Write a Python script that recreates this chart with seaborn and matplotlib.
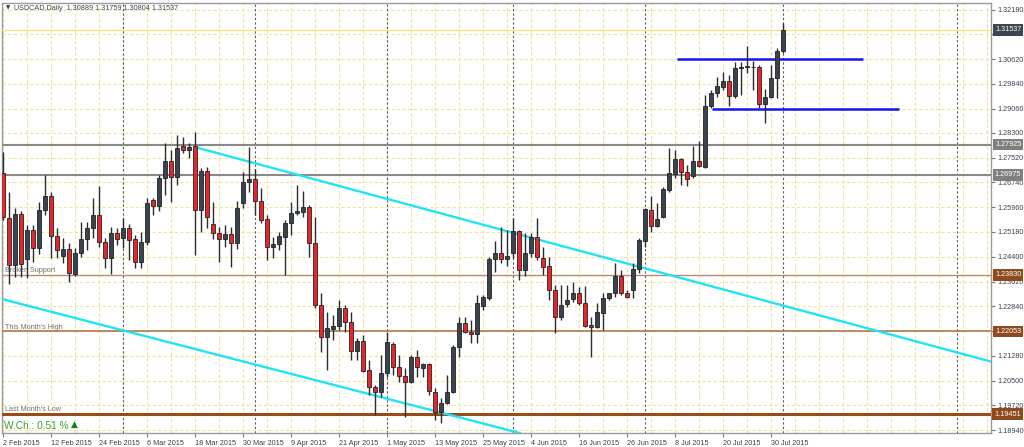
import matplotlib
matplotlib.use("Agg")
import numpy as np
import pandas as pd
import matplotlib.pyplot as plt
import matplotlib.transforms as mtrans
import seaborn as sns

symbol = "USDCAD,Daily"
dates = pd.bdate_range("2015-02-02", "2015-08-03")   # 131 daily bars

opens = [1.2704, 1.2562, 1.2414, 1.2575, 1.2433, 1.2524, 1.2468, 1.2587, 1.2631, 1.2505,
         1.2442, 1.2464, 1.2386, 1.2452, 1.2496, 1.2530, 1.2571, 1.2486, 1.2436, 1.2515,
         1.2499, 1.2530, 1.2496, 1.2423, 1.2486, 1.2619, 1.2600, 1.2688, 1.2741, 1.2691,
         1.2789, 1.2776, 1.2789, 1.2587, 1.2710, 1.2543, 1.2515, 1.2496, 1.2512, 1.2483,
         1.2609, 1.2675, 1.2685, 1.2616, 1.2559, 1.2471, 1.2480, 1.2502, 1.2546, 1.2578,
         1.2581, 1.2597, 1.2483, 1.2288, 1.2187, 1.2213, 1.2222, 1.2279, 1.2235, 1.2143,
         1.2175, 1.2084, 1.2030, 1.2014, 1.2074, 1.2165, 1.2093, 1.2065, 1.2046, 1.2124,
         1.2090, 1.2102, 1.2014, 1.1951, 1.1980, 1.2014, 1.2156, 1.2231, 1.2203, 1.2197,
         1.2285, 1.2310, 1.2433, 1.2452, 1.2433, 1.2452, 1.2521, 1.2398, 1.2452, 1.2502,
         1.2436, 1.2411, 1.2335, 1.2250, 1.2291, 1.2307, 1.2326, 1.2294, 1.2225, 1.2219,
         1.2263, 1.2310, 1.2326, 1.2379, 1.2326, 1.2335, 1.2401, 1.2490, 1.2587, 1.2537,
         1.2565, 1.2650, 1.2700, 1.2748, 1.2707, 1.2694, 1.2741, 1.2722, 1.2914, 1.2955,
         1.2974, 1.2993, 1.2946, 1.3034, 1.3037, 1.3038, 1.3037, 1.2921, 1.2943, 1.3003,
         1.30889]
highs = [1.2770, 1.2644, 1.2593, 1.2584, 1.2540, 1.2540, 1.2612, 1.2697, 1.2644, 1.2530,
         1.2499, 1.2483, 1.2468, 1.2549, 1.2549, 1.2625, 1.2663, 1.2499, 1.2534, 1.2530,
         1.2562, 1.2543, 1.2508, 1.2518, 1.2625, 1.2625, 1.2697, 1.2798, 1.2776, 1.2823,
         1.2817, 1.2798, 1.2833, 1.2719, 1.2722, 1.2612, 1.2534, 1.2540, 1.2534, 1.2616,
         1.2707, 1.2785, 1.2716, 1.2656, 1.2571, 1.2502, 1.2518, 1.2556, 1.2612, 1.2666,
         1.2647, 1.2603, 1.2565, 1.2326, 1.2266, 1.2257, 1.2304, 1.2288, 1.2266, 1.2184,
         1.2194, 1.2115, 1.2036, 1.2131, 1.2203, 1.2172, 1.2131, 1.2090, 1.2131, 1.2147,
         1.2106, 1.2106, 1.2027, 1.1995, 1.2068, 1.2162, 1.2250, 1.2250, 1.2241, 1.2320,
         1.2320, 1.2439, 1.2490, 1.2534, 1.2524, 1.2562, 1.2524, 1.2515, 1.2515, 1.2562,
         1.2471, 1.2439, 1.2351, 1.2351, 1.2351, 1.2361, 1.2345, 1.2348, 1.2250, 1.2294,
         1.2326, 1.2326, 1.2420, 1.2398, 1.2335, 1.2420, 1.2499, 1.2593, 1.2631, 1.2609,
         1.2660, 1.2782, 1.2776, 1.2751, 1.2729, 1.2789, 1.2804, 1.2949, 1.2965, 1.3006,
         1.3021, 1.3012, 1.3053, 1.3053, 1.3103, 1.3056, 1.3043, 1.2968, 1.3043, 1.3097,
         1.31759]
lows = [1.2556, 1.2354, 1.2376, 1.2376, 1.2373, 1.2424, 1.2449, 1.2571, 1.2436, 1.2436,
        1.2420, 1.2361, 1.2379, 1.2439, 1.2461, 1.2499, 1.2471, 1.2405, 1.2386, 1.2477,
        1.2468, 1.2430, 1.2405, 1.2405, 1.2477, 1.2571, 1.2584, 1.2634, 1.2612, 1.2666,
        1.2767, 1.2751, 1.2446, 1.2518, 1.2530, 1.2496, 1.2424, 1.2471, 1.2408, 1.2464,
        1.2593, 1.2644, 1.2571, 1.2546, 1.2430, 1.2436, 1.2461, 1.2383, 1.2508, 1.2571,
        1.2565, 1.2439, 1.2279, 1.2140, 1.2084, 1.2178, 1.2209, 1.2203, 1.2115, 1.2115,
        1.2077, 1.2005, 1.1942, 1.1999, 1.2062, 1.2068, 1.2046, 1.1936, 1.2043, 1.2062,
        1.2062, 1.2005, 1.1926, 1.1917, 1.1977, 1.2011, 1.2124, 1.2200, 1.2169, 1.2169,
        1.2272, 1.2304, 1.2392, 1.2420, 1.2411, 1.2436, 1.2367, 1.2379, 1.2439, 1.2430,
        1.2383, 1.2304, 1.2200, 1.2241, 1.2282, 1.2298, 1.2288, 1.2219, 1.2124, 1.2216,
        1.2209, 1.2304, 1.2313, 1.2320, 1.2310, 1.2310, 1.2389, 1.2471, 1.2518, 1.2534,
        1.2562, 1.2644, 1.2688, 1.2666, 1.2663, 1.2688, 1.2722, 1.2719, 1.2908, 1.2943,
        1.2965, 1.2914, 1.2940, 1.2949, 1.3018, 1.2965, 1.2908, 1.2861, 1.2940, 1.2940,
        1.30804]
closes = [1.2565, 1.2414, 1.2575, 1.2417, 1.2524, 1.2468, 1.2587, 1.2631, 1.2505, 1.2461,
          1.2464, 1.2389, 1.2452, 1.2496, 1.2530, 1.2571, 1.2486, 1.2436, 1.2515, 1.2496,
          1.2530, 1.2493, 1.2423, 1.2486, 1.2609, 1.2600, 1.2688, 1.2741, 1.2691, 1.2782,
          1.2776, 1.2785, 1.2587, 1.2710, 1.2565, 1.2515, 1.2496, 1.2512, 1.2483, 1.2593,
          1.2675, 1.2685, 1.2616, 1.2556, 1.2471, 1.2480, 1.2505, 1.2546, 1.2578, 1.2584,
          1.2597, 1.2483, 1.2288, 1.2187, 1.2216, 1.2222, 1.2279, 1.2235, 1.2143, 1.2175,
          1.2080, 1.2030, 1.2014, 1.2074, 1.2172, 1.2093, 1.2065, 1.2046, 1.2124, 1.2093,
          1.2102, 1.2017, 1.1951, 1.1980, 1.2014, 1.2156, 1.2231, 1.2203, 1.2197, 1.2294,
          1.2313, 1.2433, 1.2452, 1.2433, 1.2442, 1.2521, 1.2398, 1.2452, 1.2502, 1.2439,
          1.2408, 1.2335, 1.2250, 1.2288, 1.2304, 1.2326, 1.2294, 1.2222, 1.2219, 1.2266,
          1.2310, 1.2326, 1.2379, 1.2326, 1.2313, 1.2401, 1.2493, 1.2590, 1.2537, 1.2559,
          1.2653, 1.2704, 1.2748, 1.2707, 1.2685, 1.2741, 1.2726, 1.2914, 1.2955, 1.2977,
          1.2993, 1.2946, 1.3034, 1.3037, 1.3038, 1.3036, 1.2921, 1.2943, 1.3003, 1.3088,
          1.31537]

tick_prices = [1.32180, 1.31400, 1.30620, 1.29840, 1.29060, 1.28300, 1.27520, 1.26740,
               1.25960, 1.25180, 1.24400, 1.23620, 1.22840, 1.22060, 1.21280, 1.20500,
               1.19720, 1.18940]

level_prices = [1.31537, 1.27925, 1.26975, 1.23830, 1.22053, 1.19451]
level_notes = ["", "", "", "Broken Support", "This Month's High", "Last Month's Low"]

# trend channel, as (bar index, price)
upper_x = [32, 164.7]
upper_y = [1.2785, 1.2110]
lower_x = [-0.2, 86.2]
lower_y = [1.2307, 1.1885]

# consolidation range drawn in blue
range_prices = [1.3063, 1.2906]
range_from = [112.3, 118.2]
range_to = [143.3, 149.3]

week_change = 0.51

# colours
bull_col = "#3a434e"
bear_col = "#e8252c"
grid_col = "#f1e39c"
level_line_cols = ["#f3e48e", "#8a8a8a", "#8a8a8a", "#bb8e68", "#b27848", "#9a4c18"]
level_widths = [1.0, 1.5, 1.5, 1.0, 1.2, 2.2]
level_box_cols = ["#3b4650", "#7f7f7f", "#7f7f7f", "#8e4a1c", "#8e4a1c", "#8e4a1c"]

sns.set_theme(style="white")
plt.rcParams["font.family"] = ["Liberation Sans", "DejaVu Sans"]

fig = plt.figure(figsize=(10.24, 4.47), dpi=100)
ax = fig.add_axes([2 / 1024, 14 / 447, 989 / 1024, 430 / 447])

x = np.arange(len(dates))
o, h, l, c = map(np.array, (opens, highs, lows, closes))
up = c >= o

xmin, xmax = -0.17, 164.67
ymin, ymax = 1.18854, 1.32386
ax.set_xlim(xmin, xmax)
ax.set_ylim(ymin, ymax)

# dotted grid, every 4 bars and at each price tick
ax.vlines(np.arange(0, 165, 4), ymin, ymax, colors=grid_col, lw=0.8,
          linestyles=(0, (3, 2)), zorder=1)
ax.hlines(tick_prices, xmin, xmax, colors=grid_col, lw=0.8,
          linestyles=(0, (3, 2)), zorder=1)

# month separators (future one is placed by calendar days, like MT4)
month_starts = list(np.flatnonzero(np.diff(dates.month) != 0) + 1)
month_starts.append(len(dates) - 1 + (pd.Timestamp("2015-09-01") - dates[-1]).days)
ax.vlines(month_starts, ymin, ymax, colors="#5a5a5a", lw=0.8,
          linestyles=(0, (2, 2)), zorder=2)

# horizontal levels + price boxes on the axis
trans = mtrans.blended_transform_factory(ax.transAxes, ax.transData)
for p, col, lw, bcol, note in zip(level_prices, level_line_cols, level_widths,
                                  level_box_cols, level_notes):
    ax.axhline(p, color=col, lw=lw, zorder=3)
    ax.text(1.0305, p, f"{p:.5f}", transform=trans, ha="right", va="center",
            fontsize=5.2, color="white", clip_on=False, zorder=10,
            bbox=dict(boxstyle="square,pad=0.3", fc=bcol, ec="none"))
    if note:
        ax.text(0.3, p + 0.00025, note, fontsize=5.2, color="#707070",
                ha="left", va="bottom", zorder=4)

# channel lines
sns.lineplot(x=upper_x, y=upper_y, ax=ax, color="#1fe4f2", lw=1.7, zorder=4)
sns.lineplot(x=lower_x, y=lower_y, ax=ax, color="#1fe4f2", lw=1.7, zorder=4)

# range lines
ax.hlines(range_prices, range_from, range_to, colors="#1414f0", lw=1.8, zorder=4)

# candles
ax.vlines(x, l, h, colors="#2c2c2c", lw=1.0, zorder=5)
body = np.maximum(np.abs(c - o), 0.00025)
ax.bar(x, body, bottom=np.minimum(o, c), width=0.62,
       color=np.where(up, bull_col, bear_col), edgecolor="#222222",
       linewidth=0.6, zorder=6)

# axes look
for s in ax.spines.values():
    s.set_color("#9a9a9a")
    s.set_linewidth(1.0)
ax.yaxis.tick_right()
ax.set_yticks(tick_prices)
# price labels hidden behind a level box are not drawn, as in the terminal
ax.set_yticklabels(["" if min(abs(t - p) for p in level_prices) < 0.0016 else f"{t:.5f}"
                    for t in tick_prices])
tick_pos = list(range(0, len(dates), 8))
ax.set_xticks(tick_pos)
ax.set_xticklabels([f"{dates[i].day} {dates[i]:%b %Y}" for i in tick_pos])
for lab in ax.get_xticklabels():
    lab.set_ha("left")
ax.tick_params(axis="y", right=True, length=3, width=0.8, color="#777777",
               labelsize=5.2, labelcolor="#3a4250", pad=1.5)
ax.tick_params(axis="x", bottom=True, length=3, width=0.8, color="#777777",
               labelsize=5.2, labelcolor="#3a4250", pad=2)
ax.set_xlabel("")
ax.set_ylabel("")

# header and weekly change
ax.text(0.004, 0.988, "\u25BC", transform=ax.transAxes, fontsize=4, color="#404040",
        ha="left", va="center", family=["DejaVu Sans"])
ax.text(0.0122, 0.988,
        f"{symbol}  {opens[-1]:.5f} {highs[-1]:.5f} {lows[-1]:.5f} {closes[-1]:.5f}",
        transform=ax.transAxes, fontsize=5.2, color="#404850", ha="left", va="center")
ax.text(0.002, 0.017, f"W.Ch.: {week_change:.2f} %", transform=ax.transAxes,
        fontsize=7.3, color="#3ea12a", ha="left", va="center")
ax.text(0.0695, 0.019, "\u25B2", transform=ax.transAxes, fontsize=6.5,
        color="#0a8a0a", ha="left", va="center", family=["DejaVu Sans"])

fig.savefig("out.png", dpi=100, facecolor="white")
